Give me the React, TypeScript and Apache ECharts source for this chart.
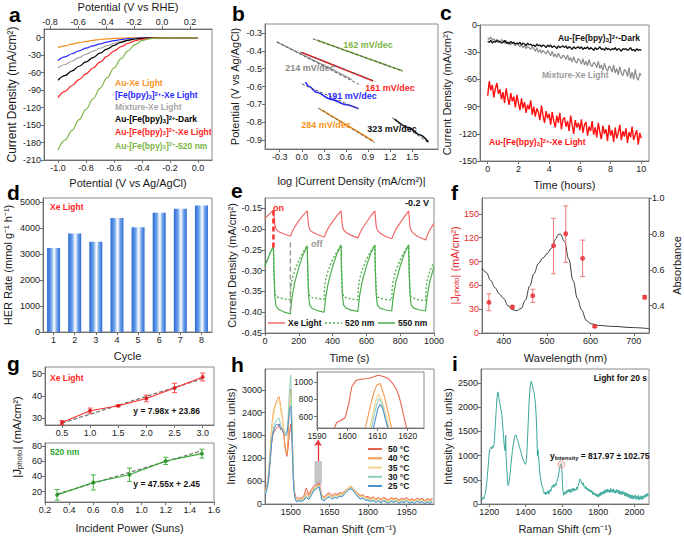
import React, { useEffect, useRef } from "react";
import * as echarts from "echarts";

const FONT = '"Liberation Sans", Arial, Helvetica, sans-serif';
const AX = "#6e6e6e";
const TXT = "#1a1a1a";

// ---------- panel a ----------
const aPotential = [-1.0, -0.95, -0.9, -0.85, -0.8, -0.75, -0.7, -0.65, -0.6, -0.55, -0.5, -0.45, -0.4, -0.35, -0.3, -0.2, -0.1, 0.0];
const aAuXe = [-17, -14, -11, -8.5, -6.3, -4.5, -3, -2, -1.2, -0.7, -0.4, -0.2, -0.1, 0, 0, 0, 0, 0];
const aFeXe = [-39, -33, -27.5, -22.5, -18, -14, -10.5, -7.5, -5, -3, -1.7, -0.9, -0.4, -0.2, -0.1, 0, 0, 0];
const aMixXe = [-52, -46, -40, -34, -28.5, -23, -18, -13.5, -9.5, -6.2, -3.8, -2.1, -1.1, -0.5, -0.2, 0, 0, 0];
const aAuFeDark = [-73, -65, -57, -49, -41.5, -34, -26.5, -19.5, -13, -8, -4.5, -2.2, -1, -0.4, -0.1, 0, 0, 0];
const aAuFeXe = [-103, -92, -82, -72, -62, -52, -42, -32, -23, -15.5, -9.5, -5.3, -2.6, -1.1, -0.4, -0.05, 0, 0];
const aAuFe520 = [-193, -176, -159, -141, -123, -105, -87, -69, -52, -36, -22.5, -12, -5, -1.8, -0.6, -0.1, 0, 0];
const aNames = ["Au-Xe Light", "[Fe(bpy){b|3}]{p|2+}-Xe Light", "Mixture-Xe Light", "Au-[Fe(bpy){b|3}]{p|2+}-Dark", "Au-[Fe(bpy){b|3}]{p|2+}-Xe Light", "Au-[Fe(bpy){b|3}]{p|2+}-520 nm"];
const aColors = ["#f7931e", "#2a2aff", "#a8a8a8", "#000000", "#ff1f1f", "#7cb445"];
const aXTicks = [-1.0, -0.8, -0.6, -0.4, -0.2, 0.0];
const aTopTicks = [-0.8, -0.6, -0.4, -0.2, 0.0, 0.2];
const aYTicks = [-210, -180, -150, -120, -90, -60, -30, 0];

// ---------- panel b ----------
const bXTicks = [-0.3, 0, 0.3, 0.6, 0.9, 1.2, 1.5];
const bYTicks = [-0.9, -0.8, -0.7, -0.6, -0.5, -0.4, -0.3];
const bGreen = [[0.2, -0.34], [1.37, -0.513]];
const bGreenFit = [[0.15, -0.333], [1.37, -0.513]];
const bRed = [[0.0, -0.41], [0.97, -0.569]];
const bRedFit = [[-0.02, -0.407], [1.0, -0.572]];
const bGray = [[-0.34, -0.35], [0.68, -0.56]];
const bGrayFit = [[-0.34, -0.35], [0.77, -0.587]];
const bBlue = [[0.05, -0.575], [0.1, -0.6], [0.2, -0.632], [0.4, -0.672], [0.6, -0.702], [0.77, -0.724]];
const bBlueFit = [[0.0, -0.585], [0.77, -0.726]];
const bOrange = [[0.25, -0.727], [0.97, -0.905]];
const bOrangeFit = [[0.22, -0.72], [0.99, -0.914]];
const bBlack = [[1.26, -0.783], [1.45, -0.83], [1.6, -0.87], [1.72, -0.91]];
const bBlackFit = [[1.23, -0.775], [1.72, -0.915]];
const bSlopes = ["162 mV/dec", "161 mV/dec", "214 mV/dec", "191 mV/dec", "284 mV/dec", "323 mV/dec"];

// ---------- panel c ----------
const cXTicks = [0, 2, 4, 6, 8, 10];
const cYTicks = [-150, -120, -90, -60, -30, 0];
const cRed = [
  -78, -62, -72, -66, -80, -70, -64, -76, -71, -82,
  -74, -86, -70, -80, -88, -75, -84, -79, -91, -77,
  -86, -94, -81, -92, -85, -97, -88, -93, -83, -99,
  -90, -101, -92, -96, -105, -89, -100, -108, -95, -103,
  -98, -110, -96, -106, -113, -100, -108, -97, -115, -104,
  -102, -112, -106, -117, -100, -110, -120, -105, -113, -108,
  -116, -104, -119, -110, -107, -122, -112, -117, -106, -121,
  -113, -124, -108, -118, -126, -111, -120, -115, -128, -110,
  -122, -116, -129, -113, -125, -119, -110, -127, -117, -123,
  -114, -130, -118, -124, -112, -127, -121, -116, -132, -119,
  -125,
];
const cGray = [
  -14, -16, -13, -17, -15, -18, -16, -17, -19, -16,
  -18, -20, -17, -21, -19, -22, -20, -21, -23, -20,
  -22, -24, -21, -25, -23, -26, -24, -25, -27, -24,
  -26, -29, -25, -30, -27, -31, -28, -30, -32, -28,
  -31, -34, -29, -35, -32, -36, -31, -35, -37, -33,
  -35, -38, -33, -39, -36, -41, -35, -40, -42, -37,
  -39, -43, -37, -44, -40, -45, -38, -44, -46, -41,
  -43, -47, -40, -48, -44, -50, -42, -48, -51, -45,
  -47, -52, -44, -53, -48, -55, -46, -53, -56, -49,
  -51, -57, -47, -59, -52, -60, -49, -58, -61, -53,
  -56,
];
const cBlack = [
  -18, -19, -17, -20, -18, -19, -17, -19, -18, -20,
  -19, -17, -20, -19, -21, -18, -20, -19, -21, -20,
  -21, -19, -22, -20, -21, -23, -20, -22, -21, -23,
  -22, -24, -21, -23, -22, -24, -22, -23, -25, -22,
  -24, -22, -25, -23, -24, -26, -23, -25, -24, -23,
  -25, -23, -26, -24, -25, -27, -24, -26, -25, -24,
  -26, -24, -27, -25, -26, -24, -27, -25, -26, -28,
  -25, -27, -26, -24, -27, -26, -28, -25, -27, -26,
  -28, -26, -27, -25, -28, -26, -27, -29, -26, -27,
  -26, -28, -27, -25, -28, -27, -29, -26, -28, -27,
  -28,
];

// ---------- panel d ----------
const dCycles = ["1", "2", "3", "4", "5", "6", "7", "8"];
const dHER = [3240, 3800, 3480, 4400, 4040, 4600, 4760, 4880];
const dYTicks = [0, 1000, 2000, 3000, 4000, 5000];

// ---------- panel e ----------
const eTime = [0, 10, 20, 30, 40,
  50, 53, 58, 65, 80, 110, 150, 153, 160, 175, 200, 225,
  250, 253, 258, 265, 280, 310, 350, 353, 360, 375, 400, 425,
  450, 453, 458, 465, 480, 510, 550, 553, 560, 575, 600, 625,
  650, 653, 658, 665, 680, 710, 750, 753, 760, 775, 800, 825,
  850, 853, 858, 865, 880, 910, 950, 953, 960, 975, 1000];
const eXe = [-0.175, -0.170, -0.166, -0.162, -0.158,
  -0.155, -0.168, -0.19, -0.2, -0.206, -0.211, -0.217, -0.215, -0.207, -0.195, -0.18, -0.167,
  -0.156, -0.17, -0.191, -0.201, -0.207, -0.213, -0.219, -0.217, -0.209, -0.197, -0.182, -0.168,
  -0.156, -0.17, -0.192, -0.202, -0.208, -0.215, -0.221, -0.219, -0.211, -0.199, -0.184, -0.169,
  -0.156, -0.171, -0.193, -0.203, -0.209, -0.217, -0.223, -0.221, -0.213, -0.2, -0.185, -0.17,
  -0.156, -0.171, -0.194, -0.204, -0.211, -0.219, -0.226, -0.224, -0.215, -0.202, -0.186];
const e550 = [-0.288, -0.278, -0.268, -0.258, -0.249,
  -0.242, -0.30, -0.36, -0.385, -0.393, -0.399, -0.404, -0.39, -0.365, -0.33, -0.292, -0.262,
  -0.24, -0.30, -0.36, -0.384, -0.391, -0.396, -0.40, -0.387, -0.362, -0.328, -0.29, -0.26,
  -0.238, -0.30, -0.358, -0.383, -0.39, -0.395, -0.398, -0.385, -0.36, -0.326, -0.289, -0.259,
  -0.238, -0.30, -0.358, -0.383, -0.39, -0.394, -0.397, -0.384, -0.36, -0.326, -0.289, -0.259,
  -0.238, -0.30, -0.358, -0.383, -0.39, -0.394, -0.397, -0.384, -0.36, -0.326, -0.29];
const e520 = [-0.288, -0.278, -0.268, -0.258, -0.249,
  -0.242, -0.30, -0.35, -0.362, -0.365, -0.368, -0.37, -0.34, -0.322, -0.30, -0.275, -0.256,
  -0.24, -0.30, -0.35, -0.362, -0.365, -0.367, -0.369, -0.338, -0.32, -0.298, -0.273, -0.255,
  -0.238, -0.30, -0.35, -0.362, -0.365, -0.368, -0.37, -0.338, -0.32, -0.298, -0.273, -0.254,
  -0.238, -0.30, -0.35, -0.363, -0.366, -0.369, -0.371, -0.339, -0.321, -0.299, -0.274, -0.254,
  -0.238, -0.30, -0.35, -0.363, -0.366, -0.37, -0.372, -0.34, -0.322, -0.30, -0.28];
const eOn = [[50, -0.155], [50, -0.245]];
const eOff = [[150, -0.232], [150, -0.405]];
const eXTicks = [0, 200, 400, 600, 800, 1000];
const eYTicks = [-0.45, -0.4, -0.35, -0.3, -0.25, -0.2, -0.15];

// ---------- panel f ----------
const fWave = [350, 360, 370, 380, 390, 400, 410, 420, 430, 440, 450, 460, 470, 480, 490, 500, 510, 520, 525, 530, 540, 550, 560, 570, 580, 590, 600, 620, 650, 700, 735];
const fAbs = [0.61, 0.585, 0.54, 0.5, 0.465, 0.44, 0.4, 0.378, 0.372, 0.385, 0.43, 0.51, 0.58, 0.635, 0.665, 0.69, 0.72, 0.77, 0.795, 0.8, 0.76, 0.66, 0.54, 0.44, 0.375, 0.32, 0.3, 0.29, 0.285, 0.278, 0.272];
const fPtWave = [366, 420, 467, 515, 543, 582, 610, 725];
const fPtJ = [38.5, 32.7, 47, 110, 125, 94, 8.4, 45];
const fErrLow = [28, 31, 38.5, 74.6, 89, 71, 7, 43];
const fErrHigh = [49.4, 34.4, 55, 144.5, 160, 117, 9.6, 47];
const fXTicks = [400, 500, 600, 700];
const fYTicks = [0, 30, 60, 90, 120, 150];
const fY2Ticks = [0.4, 0.6, 0.8, 1.0];

// ---------- panel g ----------
const gXePower = [0.5, 1.0, 1.5, 2.0, 2.5, 3.0];
const gXeJ = [28.1, 33.4, 35.6, 38.9, 43.6, 48.5];
const gXeErr = [0.9, 1.2, 0.4, 1.5, 2.1, 1.8];
const gXeFit = { slope: 7.98, intercept: 23.86, from: 0.5, to: 3.0 };
const g520Power = [0.3, 0.6, 0.9, 1.2, 1.5];
const g520J = [15.7, 32, 42.2, 60.4, 70];
const g520Err = [7, 9.9, 8.8, 4.8, 5.9];
const g520Fit = { slope: 47.55, intercept: 2.45, from: 0.3, to: 1.5 };
const gTopXTicks = [0.5, 1.0, 1.5, 2.0, 2.5, 3.0];
const gTopYTicks = [30, 40, 50];
const gBotXTicks = [0.2, 0.4, 0.6, 0.8, 1.0, 1.2, 1.4, 1.6];
const gBotYTicks = [20, 40, 60, 80];

// ---------- panel h ----------
const hShift = [1400, 1405, 1410, 1415, 1420, 1425, 1430, 1435, 1440, 1445, 1450, 1455, 1460, 1465, 1470, 1475, 1480, 1485, 1490, 1495, 1500, 1505, 1510, 1515, 1520, 1525, 1530,
  1540, 1550, 1560, 1570, 1580, 1590, 1600, 1610, 1620, 1630, 1640, 1650, 1660, 1670, 1680, 1690, 1700, 1710, 1720, 1730, 1740, 1750, 1760, 1770, 1780, 1790, 1800,
  1810, 1820, 1830, 1840, 1850, 1860, 1870, 1880, 1890, 1900, 1910, 1920, 1930, 1940, 1950, 1960, 1970, 1980, 1990, 2000, 2010, 2020, 2030, 2040, 2050];
const h50 = [420, 380, 520, 700, 1100, 1550, 1800, 1900, 1950, 2000, 2020, 2080, 1950, 2000, 1900, 1700, 1400, 1250, 1500, 1900, 2100, 1600, 700, 300, 180, 150, 160,
  150, 200, 420, 250, 380, 480, 500, 560, 250, 180, 260, 300, 220, 280, 250, 300, 280, 350, 400, 460, 420, 350, 280, 220, 250, 180, 200,
  150, 190, 130, 170, 120, 180, 140, 110, 170, 130, 160, 100, 150, 120, 170, 110, 140, 100, 160, 120, 150, 90, 140, 110, 150];
const h40 = [350, 450, 600, 900, 1400, 1900, 2300, 2500, 2600, 2700, 2800, 2820, 2600, 2400, 2100, 1700, 1350, 1300, 1800, 2600, 3020, 2000, 800, 250, 120, 100, 120,
  130, 150, 300, 200, 320, 420, 460, 520, 200, 150, 220, 260, 190, 240, 220, 270, 260, 330, 400, 470, 430, 340, 260, 200, 220, 160, 170,
  130, 160, 110, 150, 100, 150, 120, 90, 140, 110, 140, 80, 130, 100, 150, 90, 120, 80, 140, 100, 130, 70, 120, 90, 130];
const h35 = [300, 380, 550, 850, 1300, 1800, 2200, 2400, 2550, 2650, 2700, 2720, 2500, 2300, 2100, 1900, 1800, 1780, 2100, 2600, 2900, 1900, 700, 220, 110, 90, 110,
  110, 130, 260, 170, 290, 400, 440, 500, 180, 130, 200, 240, 170, 220, 200, 250, 240, 320, 390, 480, 440, 330, 240, 180, 200, 140, 150,
  110, 140, 90, 130, 80, 130, 100, 70, 120, 90, 120, 60, 110, 80, 130, 70, 100, 60, 120, 80, 110, 50, 100, 70, 110];
const h30 = [280, 350, 500, 800, 1250, 1650, 1900, 2050, 2150, 2200, 2230, 2250, 2100, 2000, 1950, 1900, 1880, 1900, 2300, 3000, 3380, 2100, 700, 200, 100, 80, 100,
  90, 110, 220, 140, 260, 380, 420, 480, 150, 100, 170, 210, 140, 190, 170, 220, 210, 290, 360, 420, 390, 300, 210, 150, 170, 110, 120,
  80, 110, 60, 100, 50, 100, 70, 40, 90, 60, 90, 30, 80, 50, 100, 40, 70, 30, 90, 50, 80, 20, 70, 40, 80];
const h25 = [250, 320, 450, 750, 1150, 1550, 1850, 1950, 2050, 2100, 2080, 2100, 2000, 1950, 1900, 1850, 1800, 1850, 2100, 2450, 2580, 1700, 600, 180, 80, 60, 80,
  70, 90, 180, 110, 230, 350, 400, 450, 120, 80, 150, 190, 120, 170, 150, 200, 190, 270, 340, 400, 370, 280, 190, 130, 150, 90, 100,
  60, 90, 40, 80, 30, 80, 50, 20, 70, 40, 70, 10, 60, 30, 80, 20, 50, 10, 70, 30, 60, 5, 50, 20, 60];
const hTemps = ["50 °C", "40 °C", "35 °C", "30 °C", "25 °C"];
const hColors = ["#e6654f", "#f39a4f", "#f6d48e", "#8fd0bd", "#4e8fd0"];
const hXTicks = [1500, 1650, 1800, 1950];
const hYTicks = [0, 600, 1200, 1800, 2400, 3000];
const hIn50 = [[1595.5, 440], [1596.5, 530], [1597.7, 550], [1599.3, 585], [1600.5, 750], [1601.5, 950], [1603, 1027], [1605, 1040], [1607, 1047], [1609, 1070], [1610.3, 1085], [1612, 1070], [1613.6, 1047], [1615, 990], [1616.4, 910], [1617.3, 820], [1618, 717], [1619, 560], [1619.8, 440]];
const hIn40 = [[1605.8, 440], [1607, 620], [1608.1, 794], [1609, 900], [1609.8, 969], [1610.9, 988], [1612, 872], [1612.8, 760], [1613.6, 639], [1614.8, 440]];
const hIn35 = [[1607.4, 440], [1608.4, 620], [1609.2, 755], [1610.3, 868], [1611.4, 794], [1612.2, 700], [1613.1, 600], [1613.9, 440]];
const hIn30 = [[1607.9, 440], [1608.9, 620], [1609.7, 740], [1610.5, 808], [1611.4, 760], [1612.4, 620], [1613.3, 480], [1613.7, 440]];
const hIn25 = [[1608.5, 440], [1609.4, 580], [1610.1, 690], [1610.9, 745], [1611.7, 700], [1612.5, 590], [1613.2, 500], [1613.7, 440]];
const hInXTicks = [1590, 1600, 1610, 1620];
const hInYTicks = [600, 800, 1000];

// ---------- panel i ----------
const iSpectrum = [
  [1154, 100], [1158, 130], [1162, 90], [1166, 140], [1170, 110], [1174, 170], [1178, 220], [1182, 330], [1186, 450], [1190, 620],
  [1193, 750], [1196, 900], [1199, 1050], [1202, 1130], [1206, 1150], [1210, 1180], [1214, 1140], [1218, 1200], [1222, 1170], [1226, 1220],
  [1230, 1450], [1234, 1700], [1238, 1950], [1242, 2200], [1246, 2300], [1249, 2310], [1252, 2200], [1256, 2100], [1260, 2050], [1264, 1950],
  [1268, 1880], [1272, 1700], [1276, 1500], [1280, 1300], [1284, 1150], [1287, 1100], [1290, 1420], [1292, 1000], [1295, 800], [1299, 550],
  [1303, 380], [1307, 420], [1311, 520], [1315, 650], [1319, 800], [1323, 950], [1327, 1100], [1331, 1200], [1335, 1300], [1339, 1380],
  [1343, 1420], [1347, 1430], [1351, 1380], [1355, 1330], [1359, 1290], [1363, 1230], [1367, 1170], [1371, 1120], [1375, 1060], [1379, 1000],
  [1383, 950], [1387, 910], [1391, 870], [1395, 840], [1399, 820], [1403, 880], [1407, 1050], [1411, 1400], [1415, 1750], [1419, 2100],
  [1423, 2360], [1427, 2480], [1431, 2540], [1435, 2480], [1439, 2420], [1443, 2350], [1447, 2290], [1451, 2180], [1455, 2030], [1459, 1750],
  [1462, 1450], [1465, 1000], [1468, 1120], [1471, 1000], [1475, 800], [1479, 600], [1483, 520], [1487, 430], [1491, 370], [1495, 330],
  [1499, 260], [1503, 210], [1507, 250], [1511, 190], [1515, 240], [1519, 220], [1523, 280], [1527, 200], [1531, 250], [1535, 300],
  [1539, 260], [1543, 330], [1547, 380], [1551, 340], [1555, 400], [1559, 360], [1563, 420], [1567, 380], [1571, 450], [1575, 500],
  [1579, 560], [1583, 640], [1587, 720], [1591, 800], [1595, 830], [1599, 780], [1602, 500], [1605, 300], [1609, 180], [1613, 240],
  [1617, 200], [1621, 260], [1625, 220], [1629, 290], [1633, 240], [1637, 300], [1641, 250], [1645, 310], [1649, 230], [1653, 280],
  [1657, 320], [1661, 260], [1665, 330], [1669, 270], [1673, 310], [1677, 280], [1681, 350], [1685, 300], [1689, 380], [1693, 420],
  [1697, 480], [1701, 520], [1705, 470], [1709, 430], [1713, 400], [1717, 440], [1721, 360], [1725, 380], [1729, 320], [1733, 360],
  [1737, 300], [1741, 330], [1745, 270], [1749, 310], [1753, 250], [1757, 290], [1761, 240], [1765, 280], [1769, 200], [1773, 250],
  [1777, 190], [1781, 230], [1785, 170], [1789, 210], [1793, 150], [1797, 200], [1801, 140], [1805, 220], [1809, 160], [1813, 240],
  [1817, 180], [1821, 250], [1825, 200], [1829, 270], [1833, 210], [1837, 290], [1841, 230], [1845, 300], [1849, 240], [1853, 310],
  [1857, 250], [1861, 290], [1865, 230], [1869, 320], [1873, 250], [1877, 300], [1881, 240], [1885, 310], [1889, 230], [1893, 280],
  [1897, 220], [1901, 300], [1905, 240], [1909, 290], [1913, 210], [1917, 280], [1921, 200], [1925, 260], [1929, 190], [1933, 270],
  [1937, 200], [1941, 250], [1945, 170], [1949, 240], [1953, 160], [1957, 230], [1961, 150], [1965, 210], [1969, 130], [1973, 200],
  [1977, 120], [1981, 190], [1985, 110], [1989, 180], [1993, 100], [1997, 170], [2001, 120], [2005, 190], [2009, 90], [2013, 160],
  [2017, 110], [2021, 180], [2025, 80], [2029, 150], [2033, 100], [2037, 170], [2041, 90], [2045, 160], [2049, 110], [2053, 180],
  [2057, 130], [2061, 200], [2065, 150], [2069, 220], [2073, 160], [2077, 210],
];
const iMarked = [[1597, 818]];
const iXTicks = [1200, 1400, 1600, 1800, 2000];
const iYTicks = [0, 500, 1000, 1500, 2000, 2500];

// ---------- helpers ----------
const fmt0 = (v: number) => String(Math.round(v));
const fmt1 = (v: number) => v.toFixed(1);
const fmt2 = (v: number) => v.toFixed(2);
const zip = (xs: number[], ys: number[]) => xs.map((x, i) => [x, ys[i]]);

function valAxis(grid: number, min: number, max: number, ticks: number[], fmt: any, o: any = {}) {
  const labelColor = o.labelColor || TXT;
  return {
    type: "value",
    gridIndex: grid,
    min,
    max,
    z: o.z || 0,
    position: o.position,
    name: o.name,
    nameLocation: "middle",
    nameGap: o.nameGap,
    nameTextStyle: {
      fontSize: o.nameSize || 11,
      color: o.nameColor || TXT,
      fontFamily: FONT,
      rich: o.nameRich,
    },
    axisLine: { show: true, onZero: false, lineStyle: { color: AX, width: 1 } },
    axisTick: { show: true, length: 3, customValues: ticks, lineStyle: { color: AX } },
    axisLabel: {
      show: o.hideLabels ? false : true,
      customValues: ticks,
      formatter: fmt,
      fontSize: o.labelSize || 9,
      color: labelColor,
      margin: 3,
      fontFamily: FONT,
      hideOverlap: false,
      showMinLabel: true,
      showMaxLabel: true,
    },
    splitLine: { show: false },
  };
}

function gridBox(left: number, top: number, width: number, height: number) {
  return { left, top, width, height, show: true, borderColor: "#8a8a8a", borderWidth: 1, backgroundColor: "transparent", containLabel: false };
}

function lineS(xi: number, yi: number, data: any[], color: string, width = 1, extra: any = {}) {
  return {
    type: "line",
    xAxisIndex: xi,
    yAxisIndex: yi,
    data,
    symbol: "none",
    silent: true,
    lineStyle: { color, width, type: extra.dash || "solid" },
    itemStyle: { color },
    smooth: extra.smooth || false,
    smoothMonotone: extra.smooth ? "x" : undefined,
    z: extra.z || 2,
  };
}

function errS(xi: number, yi: number, data: number[][], color: string) {
  return {
    type: "custom",
    xAxisIndex: xi,
    yAxisIndex: yi,
    data,
    silent: true,
    z: 3,
    encode: { x: 0, y: [1, 2] },
    renderItem: (_p: any, api: any) => {
      const x = api.value(0);
      const a = api.coord([x, api.value(1)]);
      const b = api.coord([x, api.value(2)]);
      const cw = 2.5;
      const st = { stroke: color, lineWidth: 1 };
      return {
        type: "group",
        children: [
          { type: "line", shape: { x1: a[0], y1: a[1], x2: b[0], y2: b[1] }, style: st },
          { type: "line", shape: { x1: a[0] - cw, y1: a[1], x2: a[0] + cw, y2: a[1] }, style: st },
          { type: "line", shape: { x1: b[0] - cw, y1: b[1], x2: b[0] + cw, y2: b[1] }, style: st },
        ],
      };
    },
  };
}

function scatterS(xi: number, yi: number, data: any[], color: string, size = 4) {
  return {
    type: "scatter",
    xAxisIndex: xi,
    yAxisIndex: yi,
    data,
    symbol: "circle",
    symbolSize: size,
    silent: true,
    itemStyle: { color },
    z: 4,
  };
}

function txt(x: number, y: number, text: string, o: any = {}) {
  const size = o.size || 9;
  const weight = o.weight || "bold";
  const color = o.color || "#000";
  const base = { fontSize: size, fontWeight: weight, fontFamily: FONT, fill: color };
  return {
    type: "text",
    x,
    y,
    rotation: o.rotation || 0,
    z: 100,
    silent: true,
    style: {
      text,
      ...base,
      textAlign: o.align || "left",
      textVerticalAlign: o.vAlign || "middle",
      align: o.align || "left",
      verticalAlign: o.vAlign || "middle",
      rich: {
        b: { ...base, fontSize: size * 0.68, verticalAlign: "bottom" },
        p: { ...base, fontSize: size * 0.68, verticalAlign: "top" },
      },
    },
  };
}

function gLine(x1: number, y1: number, x2: number, y2: number, color: string, width = 1.5, dash: any = null) {
  return {
    type: "line",
    z: 100,
    silent: true,
    shape: { x1, y1, x2, y2 },
    style: { stroke: color, lineWidth: width, lineDash: dash || undefined },
  };
}

function buildOption() {
  const grid = [
    gridBox(44, 25, 168, 135), // 0 a
    gridBox(265, 24, 173, 125), // 1 b
    gridBox(480, 25, 169, 136), // 2 c
    gridBox(43, 198, 169, 134), // 3 d
    gridBox(265, 198, 169, 135), // 4 e
    gridBox(482, 198, 167, 135), // 5 f
    gridBox(45, 367, 169, 58), // 6 g top
    gridBox(45, 443, 169, 59), // 7 g bottom
    gridBox(265, 369, 169, 135), // 8 h
    gridBox(317, 372, 107, 56), // 9 h inset
    gridBox(481, 369, 168, 135), // 10 i
  ];

  const photoRich = (color: string) => ({ b: { fontSize: 7.5, color, fontFamily: FONT, verticalAlign: "bottom" } });

  const xAxis: any[] = [
    valAxis(0, -1.1, 0.1, aXTicks, fmt1, { name: "Potential (V vs Ag/AgCl)", nameGap: 17 }), // 0
    valAxis(0, -0.842, 0.358, aTopTicks, fmt1, { position: "top", name: "Potential (V vs RHE)", nameGap: 17 }), // 1
    valAxis(1, -0.5, 1.85, bXTicks, fmt1, { name: "log |Current Density (mA/cm²)|", nameGap: 26 }), // 2
    valAxis(2, -0.5, 10.5, cXTicks, fmt0, { name: "Time (hours)", nameGap: 18 }), // 3
    {
      type: "category", gridIndex: 3, data: dCycles, name: "Cycle", nameLocation: "middle", nameGap: 18,
      nameTextStyle: { fontSize: 11, color: TXT, fontFamily: FONT },
      axisLine: { show: true, lineStyle: { color: AX } },
      axisTick: { show: true, length: 3, alignWithLabel: true, lineStyle: { color: AX } },
      axisLabel: { fontSize: 9, color: TXT, margin: 3, fontFamily: FONT },
      splitLine: { show: false },
    }, // 4
    valAxis(4, 0, 1000, eXTicks, fmt0, { name: "Time (s)", nameGap: 19 }), // 5
    valAxis(5, 350, 735, fXTicks, fmt0, { name: "Wavelength (nm)", nameGap: 19 }), // 6
    valAxis(6, 0.2, 3.2, gTopXTicks, fmt1, {}), // 7
    valAxis(7, 0.2, 1.6, gBotXTicks, fmt1, { name: "Incident Power (Suns)", nameGap: 20 }), // 8
    valAxis(8, 1400, 2056, hXTicks, fmt0, { name: "Raman Shift (cm⁻¹)", nameGap: 19 }), // 9
    valAxis(9, 1590, 1625.4, hInXTicks, fmt0, { labelSize: 8.5, z: 10 }), // 10
    valAxis(10, 1154, 2080, iXTicks, fmt0, { name: "Raman Shift (cm⁻¹)", nameGap: 19 }), // 11
  ];

  const yAxis: any[] = [
    valAxis(0, -210, 15, aYTicks, fmt0, { name: "Current Density (mA/cm²)", nameGap: 26, nameSize: 12 }), // 0
    valAxis(1, -0.95, -0.25, bYTicks, fmt1, { name: "Potential (V vs Ag/AgCl)", nameGap: 25 }), // 1
    valAxis(2, -150, 0, cYTicks, fmt0, { name: "Current Density (mA/cm²)", nameGap: 28 }), // 2
    valAxis(3, 0, 5170, dYTicks, fmt0, { name: "HER Rate (mmol g⁻¹ h⁻¹)", nameGap: 30 }), // 3
    valAxis(4, -0.45, -0.125, eYTicks, fmt2, { name: "Current Density (mA/cm²)", nameGap: 26 }), // 4
    valAxis(5, 0, 170, fYTicks, fmt0, { name: "|J{b|photo}| (mA/cm²)", nameGap: 20, labelColor: "#e8262b", nameColor: "#e8262b", nameRich: photoRich("#e8262b") }), // 5
    valAxis(5, 0.248, 1.0, fY2Ticks, fmt1, { position: "right", name: "Absorbance", nameGap: 22 }), // 6
    valAxis(6, 27, 53, gTopYTicks, fmt0, {}), // 7
    valAxis(7, 6.3, 84, gBotYTicks, fmt0, {}), // 8
    valAxis(8, 0, 3545, hYTicks, fmt0, { name: "Intensity (arb. units)", nameGap: 29 }), // 9
    valAxis(9, 465, 1123, hInYTicks, fmt0, { labelSize: 8.5, z: 10, hideLabels: true }), // 10 inset (labels added below)
    valAxis(10, 0, 2790, iYTicks, fmt0, { name: "Intensity (arb. units)", nameGap: 28 }), // 11
  ];

  const series: any[] = [];

  const aCurves = [aAuXe, aFeXe, aMixXe, aAuFeDark, aAuFeXe, aAuFe520];
  aCurves.forEach((c, i) => series.push(lineS(0, 0, zip(aPotential, c), aColors[i], 1.2, { smooth: 0.4 })));

  const bPairs = [
    [bGreen, bGreenFit, "#7cb445"],
    [bRed, bRedFit, "#ff1f1f"],
    [bGray, bGrayFit, "#a0a0a0"],
    [bBlue, bBlueFit, "#2a2aff"],
    [bOrange, bOrangeFit, "#f7931e"],
    [bBlack, bBlackFit, "#111111"],
  ];
  bPairs.forEach(([d, f, col]: any) => {
    series.push(lineS(2, 1, d, col, 1.6, { smooth: 0.3 }));
    series.push(lineS(2, 1, f, "#555555", 1, { dash: [3, 2], z: 3 }));
  });

  const cTime = cRed.map((_, i) => i / 10);
  series.push(lineS(3, 2, zip(cTime, cRed), "#ff1010", 1.4));
  series.push(lineS(3, 2, zip(cTime, cGray), "#8c8c8c", 1.2));
  series.push(lineS(3, 2, zip(cTime, cBlack), "#111111", 1.3));

  series.push({
    type: "bar",
    xAxisIndex: 4,
    yAxisIndex: 3,
    data: dHER,
    barWidth: 13,
    silent: true,
    itemStyle: {
      color: new echarts.graphic.LinearGradient(0, 0, 1, 0, [
        { offset: 0, color: "#2a6ad4" },
        { offset: 0.3, color: "#6a9fe9" },
        { offset: 0.55, color: "#ffffff" },
        { offset: 0.75, color: "#76a6eb" },
        { offset: 1, color: "#2a6ad4" },
      ]),
    },
  });

  series.push(lineS(5, 4, zip(eTime, eXe), "#f06a6a", 1.2));
  series.push(lineS(5, 4, zip(eTime, e520), "#4cae4c", 1.3, { dash: [2, 2] }));
  series.push(lineS(5, 4, zip(eTime, e550), "#4cae4c", 1.2));
  series.push(lineS(5, 4, eOn, "#ff2a2a", 2.5, { dash: [5, 3] }));
  series.push(lineS(5, 4, eOff, "#9a9a9a", 1.5, { dash: [5, 3] }));

  series.push(lineS(6, 6, zip(fWave, fAbs), "#3c3c3c", 1, { smooth: 0.4 }));
  series.push(errS(6, 5, fPtWave.map((w, i) => [w, fErrLow[i], fErrHigh[i]]), "#f07a7a"));
  series.push(scatterS(6, 5, zip(fPtWave, fPtJ), "#e8262b", 5));

  series.push(lineS(7, 7, [[gXeFit.from, gXeFit.slope * gXeFit.from + gXeFit.intercept], [gXeFit.to, gXeFit.slope * gXeFit.to + gXeFit.intercept]], "#777777", 1.3, { dash: [4, 2], z: 1 }));
  series.push(lineS(7, 7, zip(gXePower, gXeJ), "#ff3030", 1.1));
  series.push(errS(7, 7, gXePower.map((p, i) => [p, gXeJ[i] - gXeErr[i], gXeJ[i] + gXeErr[i]]), "#ff5050"));
  series.push(scatterS(7, 7, zip(gXePower, gXeJ), "#d01010", 4));
  series.push(lineS(8, 8, [[g520Fit.from, g520Fit.slope * g520Fit.from + g520Fit.intercept], [g520Fit.to, g520Fit.slope * g520Fit.to + g520Fit.intercept]], "#777777", 1.3, { dash: [4, 2], z: 1 }));
  series.push(lineS(8, 8, zip(g520Power, g520J), "#2ea82e", 1.1));
  series.push(errS(8, 8, g520Power.map((p, i) => [p, g520J[i] - g520Err[i], g520J[i] + g520Err[i]]), "#45b545"));
  series.push(scatterS(8, 8, zip(g520Power, g520J), "#1a8a1a", 4));

  const hSeries = [h50, h40, h35, h30, h25];
  hSeries.forEach((d, i) => {
    const s: any = lineS(9, 9, zip(hShift, d), hColors[i], 1);
    if (i === hSeries.length - 1) {
      s.markArea = {
        silent: true,
        itemStyle: { color: "rgba(150,150,150,0.55)" },
        data: [[{ coord: [1592, 490] }, { coord: [1621, 1130] }]],
      };
      s.markLine = {
        silent: true,
        symbol: ["none", "arrow"],
        symbolSize: 6,
        label: { show: false },
        lineStyle: { color: "#e83030", width: 1.3, type: "solid" },
        data: [[{ coord: [1606, 1130] }, { coord: [1606, 1680] }]],
      };
    }
    series.push(s);
  });
  const hIn = [hIn50, hIn40, hIn35, hIn30, hIn25];
  hIn.forEach((d, i) => series.push(lineS(10, 10, d, hColors[i], 1.1)));

  series.push(lineS(11, 11, iSpectrum, "#3aa89a", 1));
  series.push({
    ...scatterS(11, 11, iMarked, "rgba(240,160,160,0.35)", 7),
    itemStyle: { color: "rgba(240,160,160,0.35)", borderColor: "#e88888", borderWidth: 1 },
  });

  const graphic: any[] = [
    txt(9, 14, "a", { size: 21 }),
    txt(232, 13, "b", { size: 21 }),
    txt(440, 12, "c", { size: 21 }),
    txt(7, 192, "d", { size: 21 }),
    txt(231, 190, "e", { size: 21 }),
    txt(451, 192, "f", { size: 21 }),
    txt(7, 363, "g", { size: 21 }),
    txt(231, 364, "h", { size: 21 }),
    txt(452, 363, "i", { size: 21 }),
  ];
  const aLegY = [83, 95, 107, 119, 131.5, 145.5];
  aNames.forEach((n, i) => graphic.push(txt(115, aLegY[i], n, { size: 8.5, color: aColors[i] })));
  const bLab = [
    [368, 45, "#7cb445"],
    [390, 88, "#ff1f1f"],
    [310, 68, "#8a8a8a"],
    [352, 96, "#2a2aff"],
    [326, 125, "#f7931e"],
    [392, 129, "#111111"],
  ];
  bLab.forEach(([x, y, c]: any, i) => graphic.push(txt(x, y, bSlopes[i], { size: 9, color: c, align: "center" })));
  graphic.push(txt(640, 38, "Au-[Fe(bpy){b|3}]{p|2+}-Dark", { size: 8.5, color: "#111", align: "right" }));
  graphic.push(txt(542, 75, "Mixture-Xe Light", { size: 8.5, color: "#9a9a9a" }));
  graphic.push(txt(489, 142, "Au-[Fe(bpy){b|3}]{p|2+}-Xe Light", { size: 8.5, color: "#ff1010" }));
  graphic.push(txt(50, 207, "Xe Light", { size: 8.5, color: "#ff1f1f" }));
  graphic.push(txt(429, 203, "-0.2 V", { size: 9, color: "#111", align: "right" }));
  graphic.push(txt(273, 208, "on", { size: 9, color: "#ff2a2a" }));
  graphic.push(txt(311, 244, "off", { size: 9, color: "#9a9a9a" }));
  graphic.push(gLine(268, 323, 285, 323, "#f06a6a", 1.5));
  graphic.push(txt(288, 323, "Xe Light", { size: 8.5, color: "#111" }));
  graphic.push(gLine(325, 323, 342, 323, "#4cae4c", 1.5, [2, 2]));
  graphic.push(txt(345, 323, "520 nm", { size: 8.5, color: "#111" }));
  graphic.push(gLine(378, 323, 395, 323, "#4cae4c", 1.5));
  graphic.push(txt(398, 323, "550 nm", { size: 8.5, color: "#111" }));
  graphic.push(txt(50, 378, "Xe Light", { size: 8.5, color: "#ff1f1f" }));
  graphic.push(txt(200, 411, "y = 7.98x + 23.86", { size: 8.5, color: "#111", align: "right" }));
  graphic.push(txt(50, 452, "520 nm", { size: 8.5, color: "#2ea82e" }));
  graphic.push(txt(200, 484, "y = 47.55x + 2.45", { size: 8.5, color: "#111", align: "right" }));
  graphic.push(txt(17, 437, "|J{b|photo}| (mA/cm²)", { size: 11.5, weight: "normal", color: TXT, align: "center", rotation: Math.PI / 2 }));
  const hLegY = [449, 458.3, 467.6, 476.8, 486];
  hTemps.forEach((t, i) => {
    graphic.push(gLine(368, hLegY[i], 382, hLegY[i], hColors[i], 2));
    graphic.push(txt(388, hLegY[i], t, { size: 8.5, color: "#111" }));
  });
  graphic.push(txt(647, 378, "Light for 20 s", { size: 8.5, color: "#111", align: "right" }));
  graphic.push(txt(550, 456, "y{b|Intensity} = 817.97 ± 102.75", { size: 8.5, color: "#111" }));

  return {
    animation: false,
    backgroundColor: "#ffffff",
    textStyle: { fontFamily: FONT },
    grid,
    xAxis,
    yAxis,
    series,
    graphic,
  };
}

export default function App() {
  const ref = useRef<HTMLDivElement>(null);
  useEffect(() => {
    const chart = echarts.init(ref.current as HTMLDivElement, null, { renderer: "svg" });
    const option: any = buildOption();
    chart.setOption(option);
    // inset y tick labels placed through the inset axis' own scale, drawn as a group
    const toPx = (v: number) => chart.convertToPixel({ xAxisIndex: 10, yAxisIndex: 10 } as any, [1590, v]) as any;
    const children = hInYTicks.map((v) => {
      const p = toPx(v);
      return {
        type: "text",
        x: p[0] - 4,
        y: p[1],
        silent: true,
        style: {
          text: String(v),
          fill: "#1a1a1a",
          fontSize: 8.5,
          fontWeight: "normal",
          fontFamily: FONT,
          textAlign: "right",
          textVerticalAlign: "middle",
          align: "right",
          verticalAlign: "middle",
        },
      };
    });
    chart.setOption({ graphic: [...option.graphic, { type: "group", id: "inset-y", z: 120, children }] } as any);
    return () => chart.dispose();
  }, []);
  return (
    <div
      ref={ref}
      style={{ position: "fixed", left: 0, top: 0, width: 684, height: 536, background: "#fff" }}
    />
  );
}
